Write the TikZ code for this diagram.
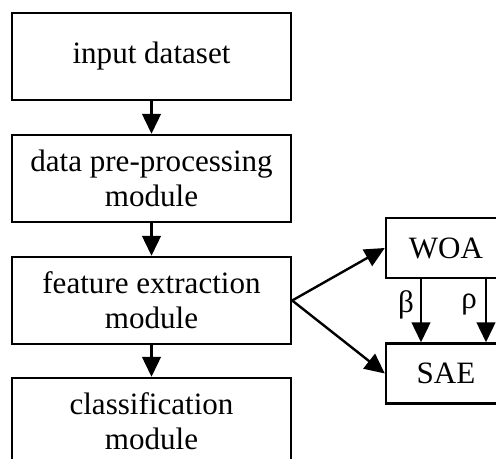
\documentclass[tikz,border=0pt]{standalone}
\usepackage{fontspec}
\setmainfont{Liberation Serif}
\usetikzlibrary{arrows.meta}
\begin{document}
\begin{tikzpicture}[x=0.75pt,y=-0.75pt,
  txt/.style={font=\fontsize{23.3}{26.5}\selectfont},
  box/.style={txt,draw,line width=1.8pt,minimum width=209.25pt,minimum height=65.25pt,inner sep=0pt,align=center},
  sbox/.style={box,minimum width=90pt,minimum height=45pt},
  arr/.style={line width=1.8pt,-{Triangle[length=15pt,width=14pt]}}]
\clip (0,0) rectangle (496,459);
\node[box] (in) at (151.5,56.5) {input dataset};
\node[box] (pre) at (151.5,178.5) {data pre-processing\\module};
\node[box] (fe) at (151.5,300.5) {feature extraction\\module};
\node[box] (cls) at (151.5,421.5) {classification\\module};
\node[sbox] (woa) at (446,248) {WOA};
\node[sbox] (sae) at (446,373.5) {SAE};
\draw[arr] (in) -- (pre);
\draw[arr] (pre) -- (fe);
\draw[arr] (fe) -- (cls);
\draw[arr] (fe.east) -- (woa.west);
\draw[arr] (fe.east) -- (sae.west);
\draw[arr] ([xshift=-18.75pt]woa.south) -- ([xshift=-18.75pt]sae.north);
\draw[arr] ([xshift=30pt]woa.south) -- ([xshift=30pt]sae.north);
\node[txt] (beta) at (406,305) {β};
\node[txt] (rho) at (469,305) {ρ};
\end{tikzpicture}
\end{document}
